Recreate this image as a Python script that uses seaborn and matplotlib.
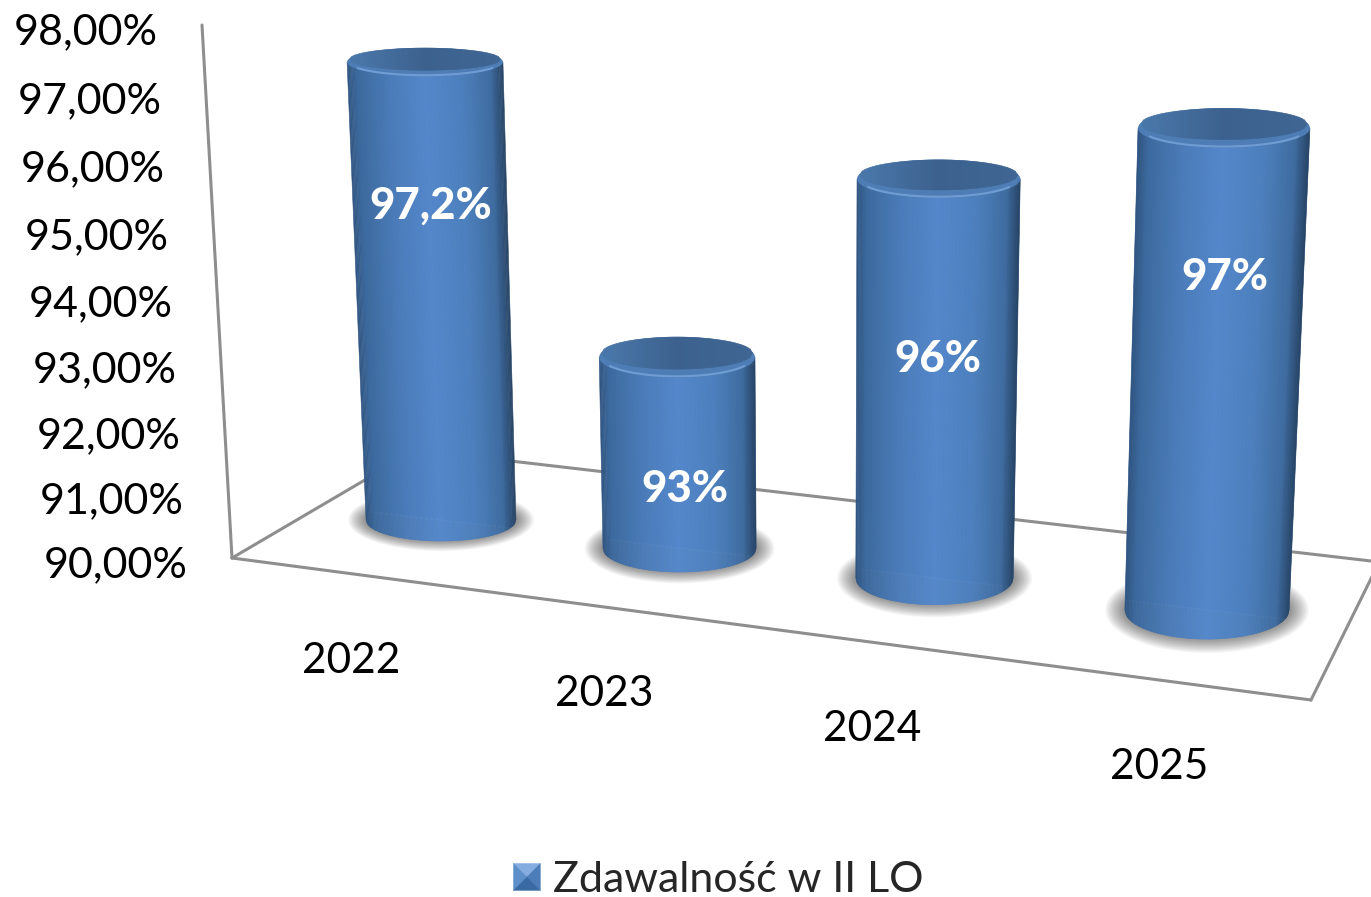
import numpy as np
import matplotlib
matplotlib.use("Agg")
import matplotlib.pyplot as plt
import matplotlib.transforms as mtransforms
from matplotlib.collections import PolyCollection
from matplotlib.colors import LinearSegmentedColormap
from matplotlib.patches import Polygon
from matplotlib.path import Path
import pandas as pd
import seaborn as sns

# ---- data ----
years = ["2022", "2023", "2024", "2025"]
values = [97.2, 93.0, 96.0, 97.0]
value_labels = ["97,2%", "93%", "96%", "97%"]
y_ticks = [90, 91, 92, 93, 94, 95, 96, 97, 98]
y_tick_labels = ["90,00%", "91,00%", "92,00%", "93,00%", "94,00%",
                 "95,00%", "96,00%", "97,00%", "98,00%"]
legend_label = "Zdawalność w II LO"

# ---- layout ----
W, H = 1371, 897
BASE = 90.0
BAR_WIDTH = 0.6
label_heights = [95.0, 90.95, 93.35, 94.9]
label_shift = [1, 4, -1, 6]
tick_offsets = [(-90, -141), (-78, -146), (-65, -151), (-48, -157)]
width_scale = [1.065, 1.03, 1.0, 0.985]
centre_nudge = [0, -2.5, -2.5, 0]
FONT = "Lato"

sns.set_theme(style="white")
plt.rcParams["font.family"] = [FONT, "DejaVu Sans"]


def px(x, y):
    return (x, H - y)


class Projective(mtransforms.Transform):
    input_dims = output_dims = 2
    is_separable = False
    has_inverse = False

    def __init__(self, M):
        super().__init__()
        self.M = M

    def transform_non_affine(self, values):
        v = np.asarray(values, float)
        h = np.column_stack([v, np.ones(len(v))]) @ self.M.T
        return h[:, :2] / h[:, 2:3]


def homography(src, dst):
    A, b = [], []
    for (x, y), (u, v) in zip(src, dst):
        A.append([x, y, 1, 0, 0, 0, -u * x, -u * y]); b.append(u)
        A.append([0, 0, 0, x, y, 1, -v * x, -v * y]); b.append(v)
    s = np.linalg.solve(np.array(A, float), np.array(b, float))
    return np.append(s, 1).reshape(3, 3)


# the slanted picture plane: category/value -> canvas
plane = Projective(homography(
    [(0, BASE), (3, BASE), (0, values[0]), (3, values[3])],
    [px(441, 520), px(1207, 610), px(425, 62), px(1224, 128)]))

fig = plt.figure(figsize=(W / 100, H / 100), dpi=100, facecolor="white")
ax = fig.add_axes([0, 0, 1, 1])
df = pd.DataFrame({"year": years, "value": values})
sns.barplot(data=df, x="year", y="value", ax=ax, width=BAR_WIDTH,
            color="#4a7ab5", saturation=1, legend=False)
ax.set_ylim(BASE, 98)
ax.axis("off")

canvas = mtransforms.Affine2D().scale(1, -1).translate(0, H)
display = mtransforms.IdentityTransform()

# frame of the 3-D box
frame_lines = [
    ([202, 232], [25, 558]),
    ([232, 416], [558, 450]),
    ([232, 1311], [558, 700]),
    ([1311, 1400], [700, 520]),
    ([416, 1371], [450, 561]),
]
for fx, fy in frame_lines:
    ax.plot(fx, fy, transform=canvas, color="#8e8e8e", lw=2.2, zorder=1,
            clip_on=True, scalex=False, scaley=False)

body_cmap = LinearSegmentedColormap.from_list("cyl", [
    (0.00, "#2f5480"), (0.06, "#3c699d"), (0.28, "#4c7dba"), (0.50, "#5488cc"),
    (0.74, "#4d80bd"), (0.92, "#3f6ca0"), (1.00, "#274465")])
cap_cmap = LinearSegmentedColormap.from_list("cap", ["#4a78ab", "#3c618e", "#3f6693"])


def ring(cx, cy, hw, hh, n=120):
    t = np.linspace(0, 2 * np.pi, n)
    return np.column_stack([cx + hw * np.cos(t), cy + hh * np.sin(t)])


def tilt(v, i):
    """Half height, in pixels, of the level ellipse at value v of bar i."""
    return (21 + 2.7 * i) * (1 - 0.045 * (v - BASE))


bars = list(ax.patches)
for i, p in enumerate(bars):
    v = p.get_height()
    left, w = p.get_x(), p.get_width()
    cx, hw = left + w / 2, w / 2
    p.set_y(BASE)
    p.set_height(v - BASE)
    p.set_transform(plane)
    p.set_zorder(3)

    (lb, rb, lt, rt) = plane.transform([(cx - hw, BASE), (cx + hw, BASE), (cx - hw, v), (cx + hw, v)])
    bx, by = plane.transform([(cx, BASE)])[0]
    tx, ty = plane.transform([(cx, v)])[0]
    bx += centre_nudge[i]
    tx += centre_nudge[i]
    bw = (rb[0] - lb[0]) / 2 * width_scale[i]
    tw = (rt[0] - lt[0]) / 2 * width_scale[i]
    bh, th = tilt(BASE, i), tilt(v, i)

    # soft ground shadow
    for k in np.linspace(1, 0, 14):
        ax.add_patch(Polygon(ring(bx, by, bw * (1.02 + 0.22 * k), bh * (1.0 + 0.48 * k)),
                             closed=True, facecolor="black", alpha=0.036, edgecolor="none",
                             transform=display, zorder=2, clip_on=False))

    # cylinder body as narrow vertical strips
    edges = np.linspace(-1, 1, 121)
    strips, colors = [], []
    for a, b in zip(edges[:-1], edges[1:]):
        strips.append([(tx + tw * a, ty), (tx + tw * b, ty),
                       (bx + bw * b, by - bh * np.sqrt(1 - b * b)),
                       (bx + bw * a, by - bh * np.sqrt(1 - a * a))])
        colors.append(body_cmap((a + b + 2) / 4))
    ax.add_collection(PolyCollection(strips, facecolors=colors, edgecolors=colors,
                                     linewidths=0.4, transform=display, zorder=4,
                                     clip_on=False), autolim=False)
    outline = np.array([(tx - tw, ty), (tx + tw, ty)] +
                       [(bx + bw * a, by - bh * np.sqrt(1 - a * a)) for a in edges[::-1]] +
                       [(tx - tw, ty)])
    p.set_clip_path(Path(outline), display)

    # top cap: rim, highlight, dark face
    ax.add_patch(Polygon(ring(tx, ty, tw, th), closed=True, facecolor="#4d7db4",
                         edgecolor="none", transform=display, zorder=5, clip_on=False))
    t = np.linspace(np.pi * 1.15, np.pi * 1.85, 40)
    ax.plot(tx + tw * 0.97 * np.cos(t), ty + th * 0.93 * np.sin(t), color="#6f9dd3",
            lw=1.5, transform=display, zorder=6, clip_on=False, scalex=False, scaley=False)
    face_edges = np.linspace(-1, 1, 61)
    fw, fh, fy0 = tw * 0.97, th * 0.78, ty + th * 0.2
    face = []
    for a, b in zip(face_edges[:-1], face_edges[1:]):
        sa, sb = np.sqrt(1 - a * a), np.sqrt(1 - b * b)
        face.append([(tx + fw * a, fy0 + fh * sa), (tx + fw * b, fy0 + fh * sb),
                     (tx + fw * b, fy0 - fh * sb), (tx + fw * a, fy0 - fh * sa)])
    cc = [cap_cmap(j / 59) for j in range(60)]
    ax.add_collection(PolyCollection(face, facecolors=cc, edgecolors=cc, linewidths=0.4,
                                     transform=display, zorder=7, clip_on=False), autolim=False)

    ax.annotate(value_labels[i], xy=(cx, label_heights[i]), xycoords=plane,
                xytext=(label_shift[i], 0), textcoords="offset pixels", color="white",
                fontsize=31.5, fontweight="black", ha="center", va="center", zorder=9,
                annotation_clip=False)
    ax.annotate(years[i], xy=(cx, BASE), xycoords=plane,
                xytext=tick_offsets[i], textcoords="offset pixels",
                fontsize=30.5, color="black", ha="center", va="center", zorder=9,
                annotation_clip=False)

# value axis labels, following the leaning wall edge
tick_fit = np.polyfit([90, 94, 98], [565, 304, 32], 2)
for tv, tl in zip(y_ticks, y_tick_labels):
    ty = np.polyval(tick_fit, tv)
    tx = 187.5 - (565 - ty) * 30 / 533
    ax.text(tx, ty, tl, transform=canvas, ha="right", va="center",
            fontsize=31, color="black", zorder=9)


class CubeHandler:
    def legend_artist(self, legend, orig, fontsize, box):
        s = 19.4
        x0, y0 = box.width - s + 5, (box.height - s) / 2 - box.ydescent
        m = (x0 + s / 2, y0 + s / 2)
        a, b, d, e = (x0, y0), (x0 + s, y0), (x0 + s, y0 + s), (x0, y0 + s)
        for pts, col in [((e, d, m), "#86ade0"), ((a, e, m), "#5f8fcb"),
                         ((b, d, m), "#4c7db8"), ((a, b, m), "#3a6aa3")]:
            box.add_artist(Polygon(pts, closed=True, facecolor=col, edgecolor=col, lw=0.3))
        return box


handle = Polygon([[0, 0]], label=legend_label)
ax.legend(handles=[handle], labels=[legend_label], handler_map={Polygon: CubeHandler()},
          loc="center", bbox_to_anchor=(709 / W, 1 - 880 / H), frameon=False,
          handlelength=0.9, handletextpad=0.45, prop={"family": FONT, "size": 31})

fig.savefig("out.png", dpi=100, facecolor="white")
